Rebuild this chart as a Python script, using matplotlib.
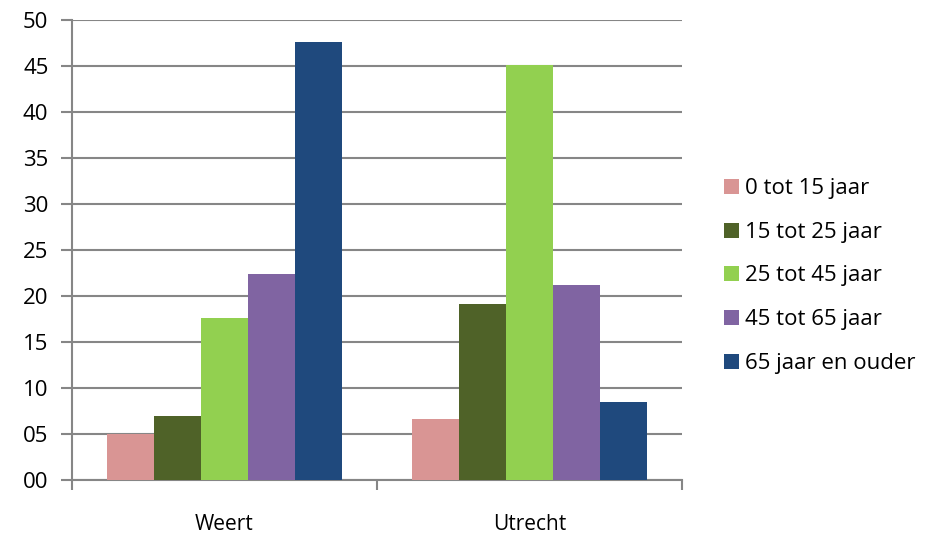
import matplotlib
matplotlib.use("Agg")
import matplotlib.pyplot as plt
import numpy as np
from matplotlib.patches import Patch

plt.rcParams['font.family'] = ['Open Sans', 'DejaVu Sans']

categories = ["Weert", "Utrecht"]
series_names = ["0 tot 15 jaar", "15 tot 25 jaar", "25 tot 45 jaar",
                "45 tot 65 jaar", "65 jaar en ouder"]
values = {
    "0 tot 15 jaar":    [5.0, 6.6],
    "15 tot 25 jaar":   [6.9, 19.1],
    "25 tot 45 jaar":   [17.6, 45.1],
    "45 tot 65 jaar":   [22.4, 21.2],
    "65 jaar en ouder": [47.6, 8.4],
}
colors = ["#d99594", "#4f6228", "#92d050", "#8064a2", "#1f497d"]
y_ticks = [0, 5, 10, 15, 20, 25, 30, 35, 40, 45, 50]
y_labels = ["00", "05", "10", "15", "20", "25", "30", "35", "40", "45", "50"]

fig = plt.figure(figsize=(9.29, 5.38), dpi=100)
ax = fig.add_axes([72/929, 1 - 479.5/538, (682-72)/929, (479.5-20)/538])

n = len(series_names)
bw = 1 / (n + 1.5)
x = np.arange(len(categories))
for i, name in enumerate(series_names):
    offs = (i - (n - 1) / 2) * bw
    ax.bar(x + offs, values[name], width=bw, color=colors[i], zorder=3)

ax.set_xlim(-0.5, len(categories) - 0.5)
ax.set_ylim(0, 50)
ax.set_yticks(y_ticks)
ax.set_yticklabels(y_labels)
ax.yaxis.grid(True, color="#868686", linewidth=1.5, zorder=0)
ax.set_xticks(x)
ax.set_xticklabels(categories)
ax.set_xticks([-0.5, 0.5, 1.5], minor=True)
ax.tick_params(axis="x", which="major", length=0, pad=25, labelsize=15)
ax.tick_params(axis="x", which="minor", length=7, width=1.5, color="#868686")
ax.tick_params(axis="y", length=8, width=1.5, color="#868686", pad=9, labelsize=16)

for s in ["top", "right"]:
    ax.spines[s].set_visible(False)
for s in ["left", "bottom"]:
    ax.spines[s].set_color("#868686")
    ax.spines[s].set_linewidth(1.5)

handles = [Patch(facecolor=c, edgecolor="none") for c in colors]
fig.legend(handles, series_names, loc="center left",
           bbox_to_anchor=(704/929, 1 - 276/538), frameon=False,
           fontsize=16, handlelength=0.66, handleheight=0.66,
           handletextpad=0.28, labelspacing=1.02)

fig.savefig("out.png", dpi=100)
